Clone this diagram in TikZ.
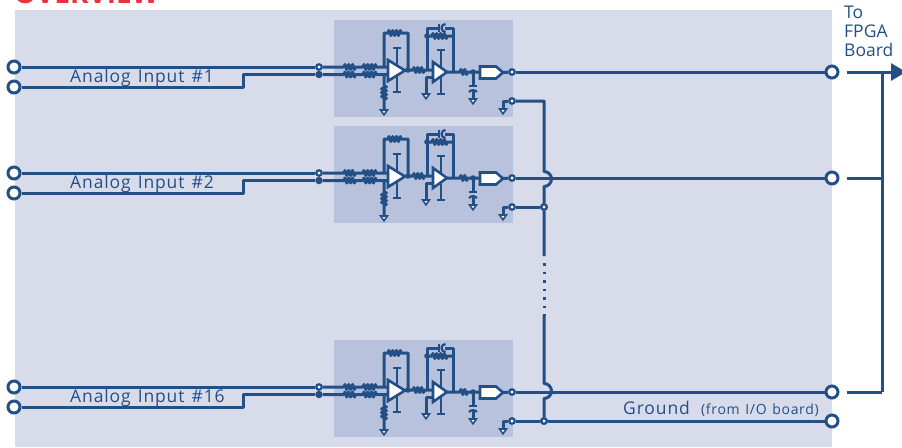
\documentclass[tikz,border=0pt]{standalone}
\usepackage{fontspec}
\setmainfont{Open Sans}
\newfontfamily\lblfont[LetterSpace=5,WordSpace=1.3]{Open Sans}
\usepackage{xcolor}
\usetikzlibrary{arrows.meta,decorations.pathmorphing}

\definecolor{panelbg}{HTML}{D8DBEA}
\definecolor{blockbg}{HTML}{B9C2DD}
\definecolor{wireblue}{HTML}{234F87}
\definecolor{headred}{HTML}{E8333C}

\tikzset{
  x=1pt, y=-1pt,
  wire/.style={draw=wireblue, line width=3pt, line join=round},
  thin wire/.style={draw=wireblue, line width=2.2pt, line join=round},
  zz/.style={decoration={zigzag, amplitude=2.5pt, segment length=3.8pt}},
  amp/.style={draw=wireblue, fill=white, line width=2.6pt, line join=miter},
  term/.style={circle, draw=wireblue, fill=white, line width=3pt, inner sep=0pt, minimum size=12pt},
  opendot/.style={circle, draw=wireblue, fill=white, line width=2.2pt, inner sep=0pt, minimum size=5.5pt},
  soliddot/.style={circle, fill=wireblue, inner sep=0pt, minimum size=7.5pt},
  lbl/.style={text=wireblue, inner sep=0pt, font=\lblfont\fontsize{17.5}{19}\selectfont},
  pics/gnd/.style={code={
    \draw[draw=wireblue, fill=white, line width=1.6pt] (-3.4,0) -- (3.4,0) -- (0,4.8) -- cycle;
  }},
  pics/chanblock/.style={code={
    \fill[blockbg] (334,20) rectangle (513,117);
    % input pair and resistors
    \node[opendot] (-ia) at (319,67) {};
    \node[soliddot] (-ib) at (319,74.5) {};
    \draw[wire] (-ia) -- (344,67) decorate[zz]{-- (357,67)} -- (363,67) decorate[zz]{-- (377,67)} -- (388,67);
    \draw[wire] (-ib) -- (344,74.5) decorate[zz]{-- (357,74.5)} -- (363,74.5) decorate[zz]{-- (377,74.5)} -- (388,74.5);
    % first stage
    \draw[wire] (384,74.5) -- (384,86) decorate[zz]{-- (384,101)} -- (384,110);
    \pic at (384,110) {gnd};
    \draw[wire] (384,67) -- (384,33) -- (388,33) decorate[zz]{-- (402,33)} -- (408,33) -- (408,70);
    \draw[thin wire] (393,48) -- (401,48) (397,48) -- (397,92) (393,92) -- (401,92);
    \draw[amp] (388,60) -- (405,70.5) -- (388,81) -- cycle;
    \fill[wireblue] (408,70) circle (2.8);
    \draw[wire] (405,70) -- (413,70) decorate[zz]{-- (425,70)} -- (433,70);
    % second stage
    \draw[wire] (433,77) -- (426,77) -- (426,94);
    \pic at (426,94) {gnd};
    \draw[wire] (427,70) -- (427,28) -- (439,28) (445,28) -- (453,28) -- (453,72);
    \draw[thin wire] (439,24) -- (439,32);
    \draw[thin wire] (445.5,24) arc[start angle=90, end angle=270, radius=4pt];
    \fill[wireblue] (427,36) circle (2.8);
    \draw[wire] (427,36) -- (432,36) decorate[zz]{-- (448,36)} -- (453,36);
    \draw[thin wire] (437,50) -- (445,50) (441,50) -- (441,94) (437,94) -- (445,94);
    \draw[amp] (433,62) -- (447,72) -- (433,82) -- cycle;
    % output stage
    \draw[wire] (447,72) -- (460,72) decorate[zz]{-- (468,72)} -- (480,72);
    \fill[wireblue] (473,72) circle (2.8);
    \draw[wire] (473,72) -- (473,86);
    \draw[thin wire] (469,86) -- (477,86);
    \draw[thin wire] (469,92) .. controls (471,89.5) and (475,89.5) .. (477,92);
    \draw[wire] (473,90) -- (473,99);
    \pic at (473,99) {gnd};
    \draw[amp] (480,66.5) -- (496,66.5) -- (503,72.5) -- (496,78.5) -- (480,78.5) -- cycle;
    \node[opendot] (-out) at (512,72) {};
    \draw[wire] (503,72.5) -- (-out);
    \node[opendot] (-gnd) at (512,101) {};
    \coordinate (-gndbend) at (503,101);
    \draw[wire] (-gnd) -- (-gndbend) -- (503,109);
    \pic at (503,109) {gnd};
  }},
}

\begin{document}
\begin{tikzpicture}
  \useasboundingbox (0,0) rectangle (902,447);
  \fill[panelbg] (15,10) rectangle (832,447);
  \node[anchor=base west, inner sep=0pt, text=headred, font=\fontsize{28}{29}\bfseries\selectfont] (head) at (14,3.5) {OVERVIEW};

  \foreach \ch/\dy/\lab in {a/0/1, b/106/2, c/320/16} {
    \pic (blk\ch) at (0,\dy) {chanblock};
    % terminals on both sides
    \node[term] (ina\ch) at (14,{67+\dy}) {};
    \node[term] (inb\ch) at (14,{87+\dy}) {};
    \node[term] (out\ch) at (832,{72+\dy}) {};
    \coordinate (kink\ch) at (243,{87+\dy});
    \coordinate (stub\ch) at (847,{72+\dy});
    \coordinate (tap\ch) at (882,{72+\dy});
    \draw[wire] (ina\ch) -- (blk\ch-ia);
    \draw[wire] (inb\ch) -- (kink\ch) |- (blk\ch-ib);
    \node[lbl, anchor=base west] (lab\ch) at (70,{82+\dy}) {Analog Input \#\lab};
    \draw[wire] (blk\ch-out) -- (out\ch);
    \draw[wire] (stub\ch) -- (tap\ch);
  }

  % ground bus with two jumps over the outputs
  \node[opendot] (busb) at (544,207) {};
  \node[opendot] (busc) at (544,421) {};
  \node[term] (gndterm) at (832,421) {};
  \coordinate (busa) at (544,101);
  \draw[wire] (blka-gnd) -- (busa) -- (544,171.5) arc[start angle=90, end angle=-90, radius=7.5pt] -- (busb) -- (544,256);
  \draw[wire, dash pattern=on 2.5pt off 6pt] (544,263) -- (544,316);
  \draw[wire] (544,315) -- (544,383.5) arc[start angle=90, end angle=-90, radius=7.5pt] -- (busc);
  \draw[wire] (blkb-gnd) -- (busb);
  \draw[wire] (blkc-gnd) -- (busc);
  \draw[wire] (busc) -- (gndterm);
  \node[opendot] at (busb) {};
  \node[opendot] at (busc) {};
  \node[lbl, anchor=base west] (gndlab) at (623,414) {Ground};
  \node[lbl, anchor=base east, font=\lblfont\fontsize{14}{16}\selectfont] (fromlab) at (819,414) {(from I/O board)};

  % FPGA side
  \coordinate (tipend) at (906,72);
  \draw[wire] (tapa) -- (tapc);
  \draw[wire, -{Triangle[length=15pt,width=17pt]}] (stuba) -- (tipend);
  \node[lbl, anchor=north west, align=left, font=\fontsize{17.5}{19}\selectfont] (fpga) at (844,6) {To\\FPGA\\Board};
\end{tikzpicture}
\end{document}
